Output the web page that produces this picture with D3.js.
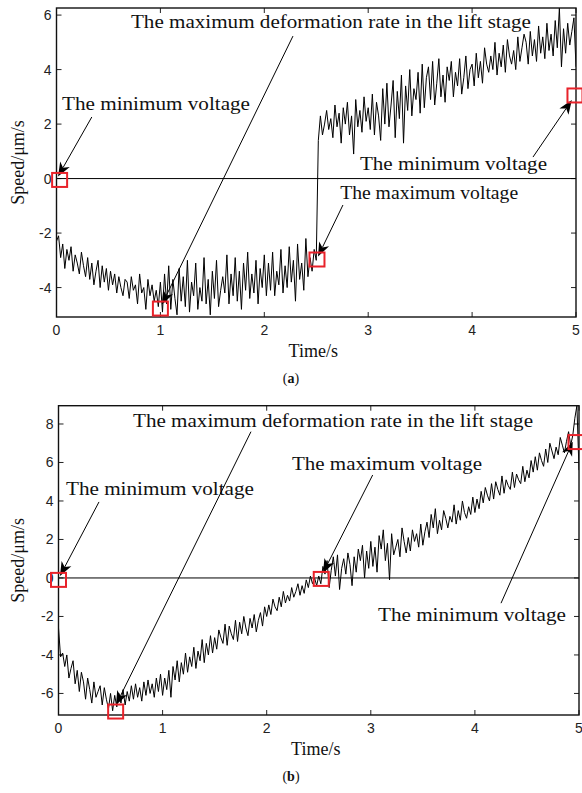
<!DOCTYPE html>
<html><head><meta charset="utf-8">
<script src="https://cdn.jsdelivr.net/npm/d3@7"></script>
<style>body{margin:0;background:#fff}svg{display:block}</style>
</head><body>
<svg id="c" width="582" height="793"></svg>
<script>
// ---------- data ----------
const timeStep = 0.02; // seconds between samples
const speedA = [
-2.3,-2.1,-2.9,-2.4,-3.3,-2.6,-3.0,-2.5,-3.4,-2.8,-3.1,-3.5,-2.7,-3.2,-3.6,-2.9,-3.7,-3.1,-3.9,-3.4,-3.0,-4.0,-3.2,-3.8,-3.3,-4.1,
-3.4,-3.9,-3.5,-4.2,-3.6,-4.0,-4.3,-3.7,-3.8,-4.4,-3.6,-4.1,-3.9,-4.6,-3.5,-4.2,-4.0,-4.8,-3.7,-4.3,-3.9,-4.5,-4.1,-4.7,-3.8,
-4.9,-3.5,-4.6,-3.2,-4.8,-3.7,-4.4,-5.0,-3.3,-4.5,-3.6,-4.7,-3.0,-4.9,-3.8,-4.3,-3.1,-4.8,-4.0,-4.5,-2.9,-4.6,-3.7,-5.0,-3.4,
-4.4,-3.0,-4.7,-4.1,-3.6,-4.2,-2.8,-4.6,-3.5,-4.3,-2.9,-4.5,-3.4,-4.8,-3.1,-4.1,-2.7,-4.4,-3.5,-4.2,-3.0,-4.6,-3.3,-4.0,-2.8,
-4.3,-3.1,-4.1,-2.7,-4.3,-3.4,-3.9,-2.6,-4.2,-3.2,-4.0,-2.5,-3.8,-3.0,-4.5,-2.4,-3.7,-3.1,-4.1,-2.2,-3.6,-2.9,-3.4,-2.6,-3.0,
1.4,2.3,1.6,2.0,2.5,1.8,2.2,1.5,2.7,1.9,2.4,1.3,2.6,2.0,2.8,1.6,2.3,0.9,2.9,1.9,2.5,1.7,3.0,2.1,2.6,
1.8,3.1,1.6,2.8,2.3,1.4,3.3,2.0,3.5,1.9,2.7,3.6,1.5,3.2,2.2,3.8,1.3,3.4,2.5,4.0,2.3,3.3,2.9,3.9,2.4,
4.2,2.6,3.7,4.1,2.9,4.3,2.7,3.5,4.4,3.0,3.8,2.8,4.1,3.6,4.3,3.0,3.9,3.4,4.4,3.1,3.7,4.5,3.3,4.0,4.2,
3.4,4.6,3.7,4.3,3.5,4.8,4.2,3.9,4.5,4.0,5.0,3.8,4.6,4.1,4.9,3.9,5.1,4.5,4.2,4.7,4.0,5.2,4.3,4.8,5.3,
5.0,4.2,5.4,4.5,5.1,4.3,5.6,4.6,5.2,4.4,5.7,4.7,5.3,4.5,5.8,4.8,6.26,4.1,5.5,4.6,5.7,4.9,5.4,5.9,4.1
];
const speedB = [
-2.6,-4.1,-3.9,-4.6,-4.0,-5.2,-4.7,-4.3,-5.5,-4.8,-5.9,-4.9,-5.4,-6.3,-5.2,-5.8,-6.5,-5.4,-6.2,-5.9,-5.6,-6.6,-5.7,-6.3,-6.8,-6.0,
-6.9,-6.1,-6.7,-6.0,-6.5,-5.8,-6.6,-5.9,-6.4,-5.6,-6.3,-5.5,-6.2,-5.7,-6.4,-5.4,-6.1,-5.3,-6.0,-5.5,-6.2,-5.2,-5.9,-5.0,-6.1,
-5.2,-5.8,-4.8,-6.2,-4.6,-5.3,-4.3,-5.4,-4.4,-5.0,-3.9,-4.9,-4.1,-4.6,-3.6,-4.7,-3.8,-4.3,-3.2,-4.4,-3.4,-4.0,-3.0,-3.9,-3.1,
-3.7,-2.7,-3.1,-3.4,-2.4,-3.5,-2.5,-2.9,-3.2,-2.2,-3.3,-2.3,-2.9,-2.0,-2.6,-3.0,-2.1,-2.6,-1.9,-2.8,-2.2,-1.8,-2.5,-1.5,-2.0,
-1.4,-1.9,-1.1,-1.5,-1.7,-1.0,-1.5,-0.7,-1.3,-0.9,-1.2,-0.5,-1.0,-0.7,-0.3,-0.9,-0.4,-0.8,-0.1,-0.5,0.1,-0.3,0.0,-0.4,0.1,
-0.3,0.6,0.2,0.9,-0.5,0.4,1.1,0.1,1.2,-0.6,0.5,1.0,0.2,1.3,0.7,-0.4,1.1,0.3,1.5,0.9,1.7,0.0,1.4,0.5,1.9,
0.6,1.6,0.3,2.2,1.5,2.5,0.9,1.8,-0.1,2.3,1.2,1.6,2.0,1.1,2.6,1.9,1.3,2.1,1.4,2.5,1.9,2.3,1.6,2.8,1.7,
2.4,2.9,2.1,3.3,2.6,3.6,2.3,3.0,2.5,3.5,3.1,2.6,3.2,2.9,3.8,2.8,3.5,3.0,4.0,3.4,3.1,3.7,3.3,4.2,3.4,
4.1,3.6,4.5,3.9,4.7,4.3,4.0,4.9,4.1,5.0,4.6,4.3,5.3,4.4,5.1,4.8,4.6,5.5,4.7,5.4,5.1,4.9,5.8,5.0,5.6,
5.2,6.1,5.5,6.3,5.6,6.5,6.1,5.8,6.7,6.0,7.0,6.6,6.2,6.8,6.4,7.3,6.9,6.5,7.1,7.6,6.9,7.4,8.3,8.95,5.6
];
const xTicks = [0, 1, 2, 3, 4, 5];
const yTicksA = [-4, -2, 0, 2, 4, 6];
const yTicksB = [-6, -4, -2, 0, 2, 4, 6, 8];
const xDomain = [0, 5];
const yDomainA = [-5.08, 6.26];
const yDomainB = [-7.12, 8.95];
const labelMin = "The minimum voltage";
const labelMax = "The maximum voltage";
const labelRate = "The maximum deformation rate in the lift stage";

// annotations in data coordinates: marked point, arrow tail, arrow tip, text start
const notesA = [
  {label: labelMin,  mark: [0.03, -0.05], tail: [0.34, 2.26],  tip: [0.015, 0.08], text: [0.053, 2.52], w: 188},
  {label: labelRate, mark: [1.0, -4.77],  tail: [2.276, 5.23], tip: [1.015, -4.62], text: [0.717, 5.53], w: 400},
  {label: labelMax,  mark: [2.507, -2.97], tail: [2.757, -0.97], tip: [2.517, -2.86], text: [2.73, -0.75], w: 178},
  {label: labelMin,  mark: [4.99, 3.05],  tail: [4.586, 0.79], tip: [4.96, 2.88],  text: [2.921, 0.32], w: 187}
];
const notesB = [
  {label: labelMin,  mark: [0.0, -0.1],   tail: [0.389, 3.95], tip: [0.014, 0.1],  text: [0.072, 4.31], w: 188},
  {label: labelRate, mark: [0.549, -6.94], tail: [1.849, 7.6], tip: [0.552, -6.6], text: [0.716, 7.83], w: 400},
  {label: labelMax,  mark: [2.524, -0.05], tail: [3.018, 5.35], tip: [2.541, 0.26], text: [2.243, 5.61], w: 190},
  {label: labelMin,  mark: [4.971, 7.06], tail: [4.251, -1.31], tip: [4.94, 7.08], text: [3.069, -2.22], w: 188}
];

// ---------- drawing ----------
const svg = d3.select("#c");
const serif = "'Liberation Serif','DejaVu Serif',serif";
const sans = "'Liberation Sans',Arial,sans-serif";

function panel(cfg) {
  const {values, yDomain, yTicks, left, right, top, bottom, notes, caption, id} = cfg;
  const x = d3.scaleLinear().domain(xDomain).range([left, right]);
  const y = d3.scaleLinear().domain(yDomain).range([bottom, top]);
  const g = svg.append("g");

  g.append("clipPath").attr("id", id).append("rect")
    .attr("x", left).attr("y", top).attr("width", right - left).attr("height", bottom - top);

  const tl = 5;
  g.selectAll(".xt").data(xTicks).join("text")
    .attr("x", d => x(d)).attr("y", bottom + 18)
    .attr("text-anchor", "middle").attr("font-family", sans).attr("font-size", 14).attr("fill", "#222")
    .text(d => d);
  g.selectAll(".yt").data(yTicks).join("text")
    .attr("x", left - 5).attr("y", d => y(d) + 5)
    .attr("text-anchor", "end").attr("font-family", sans).attr("font-size", 14).attr("fill", "#222")
    .text(d => d);
  const tickG = g.append("g").attr("stroke", "#222").attr("stroke-width", 1);
  xTicks.forEach(d => {
    tickG.append("line").attr("x1", x(d)).attr("x2", x(d)).attr("y1", bottom).attr("y2", bottom - tl);
    tickG.append("line").attr("x1", x(d)).attr("x2", x(d)).attr("y1", top).attr("y2", top + tl);
  });
  yTicks.forEach(d => {
    tickG.append("line").attr("y1", y(d)).attr("y2", y(d)).attr("x1", left).attr("x2", left + tl);
    tickG.append("line").attr("y1", y(d)).attr("y2", y(d)).attr("x1", right).attr("x2", right - tl);
  });

  // zero line
  g.append("line").attr("x1", left).attr("x2", right).attr("y1", y(0)).attr("y2", y(0))
    .attr("stroke", "#000").attr("stroke-width", 1);

  // data line
  const line = d3.line().x((d, i) => x(i * timeStep)).y(d => y(d));
  g.append("path").datum(values).attr("d", line)
    .attr("fill", "none").attr("stroke", "#000").attr("stroke-width", 1)
    .attr("stroke-linejoin", "miter").attr("clip-path", `url(#${id})`);

  // frame
  g.append("rect").attr("x", left).attr("y", top).attr("width", right - left).attr("height", bottom - top)
    .attr("fill", "none").attr("stroke", "#111").attr("stroke-width", 1.4);

  // annotations
  notes.forEach(n => {
    const x0 = x(n.tail[0]), y0 = y(n.tail[1]), x1 = x(n.tip[0]), y1 = y(n.tip[1]);
    const dx = x1 - x0, dy = y1 - y0, L = Math.hypot(dx, dy);
    const ux = dx / L, uy = dy / L, px = -uy, py = ux;
    const len = 14, hw = 5.5;
    const bx = x1 - ux * len, by = y1 - uy * len;
    const nx = x1 - ux * len * 0.72, ny = y1 - uy * len * 0.72;
    g.append("line").attr("x1", x0).attr("y1", y0).attr("x2", nx).attr("y2", ny)
      .attr("stroke", "#000").attr("stroke-width", 1);
    g.append("path")
      .attr("d", `M${x1},${y1}L${bx + px * hw},${by + py * hw}L${nx},${ny}L${bx - px * hw},${by - py * hw}Z`)
      .attr("fill", "#000");
    g.append("rect").attr("x", x(n.mark[0]) - 7.5).attr("y", y(n.mark[1]) - 7).attr("width", 15).attr("height", 14)
      .attr("fill", "none").attr("stroke", "#e8222a").attr("stroke-width", 2);
    g.append("text").attr("x", x(n.text[0])).attr("y", y(n.text[1]))
      .attr("font-family", serif).attr("font-size", 19.5).attr("fill", "#111")
      .attr("textLength", n.w).attr("lengthAdjust", "spacingAndGlyphs")
      .text(n.label);
  });

  // axis titles
  g.append("text").attr("transform", `translate(24,${(top + bottom) / 2}) rotate(-90)`)
    .attr("text-anchor", "middle").attr("font-family", serif).attr("font-size", 18).attr("fill", "#111")
    .text("Speed/μm/s");
  g.append("text").attr("x", (left + right) / 2 - 3).attr("y", bottom + 40)
    .attr("text-anchor", "middle").attr("font-family", serif).attr("font-size", 18).attr("fill", "#111")
    .text("Time/s");
  const cap = g.append("text").attr("x", 291).attr("y", bottom + 66)
    .attr("text-anchor", "middle").attr("font-family", serif).attr("font-size", 14).attr("fill", "#111");
  cap.append("tspan").text("(");
  cap.append("tspan").attr("font-weight", "bold").text(caption);
  cap.append("tspan").text(")");
}

panel({id: "clipA", values: speedA, yDomain: yDomainA, yTicks: yTicksA,
  left: 56.5, right: 576, top: 8, bottom: 317, notes: notesA, caption: "a"});
panel({id: "clipB", values: speedB, yDomain: yDomainB, yTicks: yTicksB,
  left: 58.5, right: 579, top: 405.7, bottom: 715, notes: notesB, caption: "b"});
</script>
</body></html>
